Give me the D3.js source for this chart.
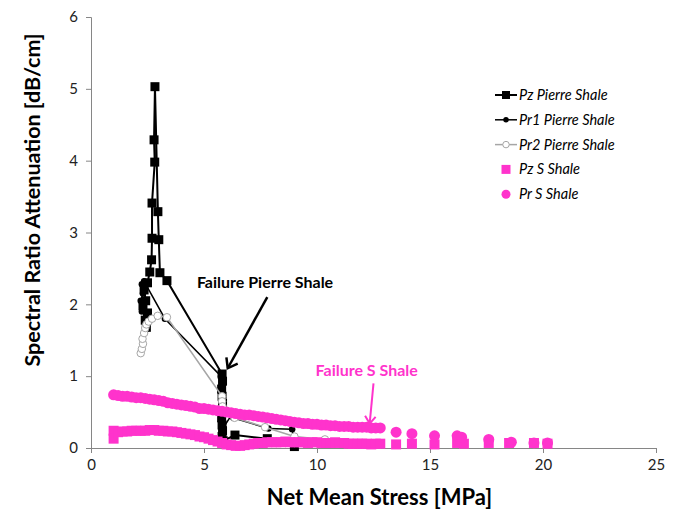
<!DOCTYPE html>
<html>
<head>
<meta charset="utf-8">
<script src="https://cdnjs.cloudflare.com/ajax/libs/d3/7.8.5/d3.min.js"></script>
<style>
  body { margin: 0; background: #fff; }
  svg { font-family: Lato, "Liberation Sans", sans-serif; }
</style>
</head>
<body>
<div id="chart"></div>
<script>
// values (x = Net Mean Stress MPa, y = attenuation dB/cm)
const pzPierreX = [2.45, 2.4, 2.5, 2.3, 2.42, 2.35, 2.5, 2.6, 2.68, 2.7, 2.7, 2.82, 2.79, 2.83, 2.96, 3.0, 3.05, 3.36,
                   5.8, 5.82, 5.78, 5.8, 5.82, 5.8, 5.78, 5.8, 5.82, 5.8, 5.85, 6.37, 7.8, 9.0];
const pzPierreY = [1.68, 1.78, 1.88, 1.98, 2.05, 2.2, 2.3, 2.45, 2.62, 2.92, 3.41, 3.98, 4.29, 5.03, 3.29, 2.9, 2.44, 2.33,
                   1.03, 0.93, 0.82, 0.72, 0.62, 0.52, 0.42, 0.32, 0.24, 0.16, 0.1, 0.18, 0.13, 0.02];

const pr1PierreX = [2.25, 2.2, 2.3, 2.25, 2.35, 3.27, 5.75, 5.8, 5.8, 5.85, 6.3, 6.3, 7.85, 8.9, 9.0];
const pr1PierreY = [1.9, 2.05, 2.15, 2.28, 2.32, 1.8, 1.0, 0.78, 0.48, 0.28, 0.5, 0.42, 0.27, 0.26, 0.1];

const pr2PierreX = [2.2, 2.25, 2.3, 2.28, 2.35, 2.4, 2.45, 2.55, 2.7, 2.95, 3.36, 5.8, 5.8, 5.82, 6.35, 7.7, 9.0, 10.35];
const pr2PierreY = [1.32, 1.38, 1.45, 1.52, 1.6, 1.67, 1.72, 1.76, 1.8, 1.84, 1.82, 0.72, 0.65, 0.58, 0.42, 0.29, 0.16, 0.12];

const pzSX = [1.0, 1.0, 1.2, 1.4, 1.6, 1.8, 2.0, 2.2, 2.4, 2.6, 2.8, 3.0, 3.2, 3.4, 3.6, 3.8, 4.0, 4.2, 4.4, 4.6, 4.8,
              5.0, 5.2, 5.4, 5.6, 5.8, 6.0, 6.2, 6.4, 6.6, 6.8, 7.0, 7.2, 7.4, 7.6, 7.8, 8.0, 8.2, 8.4, 8.6, 8.8,
              9.0, 9.2, 9.4, 9.6, 9.8, 10.0, 10.2, 10.4, 10.6, 10.8, 11.0, 11.2, 11.4, 11.6, 11.8, 12.0, 12.2, 12.4, 12.6, 12.8,
              13.5, 14.2, 15.2, 16.2, 16.5, 17.6, 18.5, 19.6, 20.2];
const pzSY = [0.24, 0.13, 0.22, 0.23, 0.23, 0.24, 0.24, 0.24, 0.24, 0.25, 0.25, 0.24, 0.24, 0.23, 0.23, 0.22, 0.21, 0.2, 0.19, 0.18, 0.16,
              0.15, 0.13, 0.11, 0.09, 0.07, 0.05, 0.04, 0.03, 0.03, 0.04, 0.05, 0.06, 0.07, 0.07, 0.08, 0.08, 0.08, 0.08, 0.09, 0.08,
              0.08, 0.08, 0.08, 0.07, 0.08, 0.08, 0.07, 0.07, 0.07, 0.08, 0.07, 0.07, 0.06, 0.06, 0.06, 0.06, 0.06, 0.05, 0.06, 0.06,
              0.05, 0.06, 0.05, 0.07, 0.06, 0.07, 0.07, 0.07, 0.06];

const prSX = [1.0, 1.2, 1.4, 1.6, 1.8, 2.0, 2.2, 2.4, 2.6, 2.8, 3.0, 3.2, 3.4, 3.6, 3.8, 4.0, 4.2, 4.4, 4.6, 4.8,
              5.0, 5.2, 5.4, 5.6, 5.8, 6.0, 6.2, 6.4, 6.6, 6.8, 7.0, 7.2, 7.4, 7.6, 7.8, 8.0, 8.2, 8.4, 8.6, 8.8,
              9.0, 9.2, 9.4, 9.6, 9.8, 10.0, 10.2, 10.4, 10.6, 10.8, 11.0, 11.2, 11.4, 11.6, 11.8, 12.0, 12.2, 12.4, 12.6, 12.8,
              13.5, 14.2, 15.2, 16.2, 16.4, 17.6, 18.6, 19.6, 20.2];
const prSY = [0.74, 0.73, 0.72, 0.72, 0.71, 0.7, 0.7, 0.69, 0.68, 0.67, 0.66, 0.65, 0.63, 0.62, 0.61, 0.6, 0.59, 0.58, 0.57, 0.55,
              0.55, 0.54, 0.53, 0.52, 0.51, 0.5, 0.49, 0.48, 0.47, 0.46, 0.46, 0.45, 0.44, 0.43, 0.42, 0.41, 0.4, 0.39, 0.38, 0.37,
              0.36, 0.35, 0.34, 0.34, 0.33, 0.33, 0.32, 0.32, 0.31, 0.31, 0.3, 0.3, 0.3, 0.29, 0.29, 0.29, 0.29, 0.28, 0.28, 0.28,
              0.22, 0.2, 0.17, 0.17, 0.15, 0.12, 0.08, 0.07, 0.07];

const xTicks = [0, 5, 10, 15, 20, 25];
const yTicks = [0, 1, 2, 3, 4, 5, 6];

const pink = "#ff33cc";

const series = [
  { name: "Pz Pierre Shale", xs: pzPierreX, ys: pzPierreY, line: "#000", lw: 2, shape: "square", size: 9, fill: "#000", stroke: "none" },
  { name: "Pr1 Pierre Shale", xs: pr1PierreX, ys: pr1PierreY, line: "#000", lw: 1.5, shape: "circle", size: 6.5, fill: "#000", stroke: "none" },
  { name: "Pr2 Pierre Shale", xs: pr2PierreX, ys: pr2PierreY, line: "#a6a6a6", lw: 1.5, shape: "circle", size: 7.5, fill: "#fff", stroke: "#a6a6a6" },
  { name: "Pz S Shale", xs: pzSX, ys: pzSY, line: null, shape: "square", size: 10, fill: pink, stroke: "none" },
  { name: "Pr S Shale", xs: prSX, ys: prSY, line: null, shape: "circle", size: 11, fill: pink, stroke: "none" }
];

const width = 680, height = 515;
const margin = { top: 17, right: 24, bottom: 67, left: 91 };
const innerW = width - margin.left - margin.right;
const innerH = height - margin.top - margin.bottom;

const svg = d3.select("#chart")
  .append("svg")
    .attr("width", width)
    .attr("height", height);

const g = svg.append("g")
    .attr("transform", `translate(${margin.left},${margin.top})`);

const x = d3.scaleLinear().domain([0, 25]).range([0, innerW]);
const y = d3.scaleLinear().domain([0, 6]).range([innerH, 0]);

// axes
const xAxis = g.append("g")
    .attr("transform", `translate(0,${innerH})`)
    .call(d3.axisBottom(x).tickValues(xTicks).tickFormat(d3.format("d")).tickSize(5).tickPadding(6));
const yAxis = g.append("g")
    .call(d3.axisLeft(y).tickValues(yTicks).tickFormat(d3.format("d")).tickSize(5).tickPadding(8));

[xAxis, yAxis].forEach(a => {
  a.select(".domain").attr("stroke", "#868686");
  a.selectAll(".tick line").attr("stroke", "#868686");
  a.selectAll(".tick text")
    .attr("fill", "#222")
    .style("font-size", "15px")
    .style("font-family", "Lato, sans-serif");
});

// symbol helper
function symbolPath(shape, size) {
  const type = shape === "square" ? d3.symbolSquare : d3.symbolCircle;
  return d3.symbol().type(type).size(size * size * (shape === "square" ? 1 : 0.785))();
}

series.forEach(s => {
  const pts = s.xs.map((v, i) => [v, s.ys[i]]);
  if (s.line) {
    g.append("path")
      .datum(pts)
      .attr("fill", "none")
      .attr("stroke", s.line)
      .attr("stroke-width", s.lw)
      .attr("d", d3.line().x(d => x(d[0])).y(d => y(d[1])));
  }
  g.append("g")
    .selectAll("path")
    .data(pts)
    .join("path")
      .attr("transform", d => `translate(${x(d[0])},${y(d[1])})`)
      .attr("d", symbolPath(s.shape, s.size))
      .attr("fill", s.fill)
      .attr("stroke", s.stroke)
      .attr("stroke-width", 1);
});

// axis titles
svg.append("text")
    .attr("x", margin.left + innerW / 2 + 6)
    .attr("y", 505)
    .attr("text-anchor", "middle")
    .style("font-size", "22px")
    .style("font-weight", "bold")
    .text("Net Mean Stress [MPa]");

svg.append("text")
    .attr("transform", "translate(40,200) rotate(-90)")
    .attr("text-anchor", "middle")
    .style("font-size", "21.5px")
    .style("font-weight", "bold")
    .text("Spectral Ratio Attenuation [dB/cm]");

// legend
const legend = svg.append("g").attr("transform", "translate(495,95)");
series.forEach((s, i) => {
  const row = legend.append("g").attr("transform", `translate(0,${i * 24.8})`);
  if (s.line) {
    row.append("line")
      .attr("x1", 0).attr("x2", 22)
      .attr("stroke", s.line)
      .attr("stroke-width", s.lw);
  }
  row.append("path")
    .attr("transform", "translate(11,0)")
    .attr("d", symbolPath(s.shape, s.line ? s.size - 1 : 9))
    .attr("fill", s.fill)
    .attr("stroke", s.stroke);
  row.append("text")
    .attr("x", 24)
    .attr("dy", "0.35em")
    .style("font-size", "14.5px")
    .style("font-style", "italic")
    .text(s.name);
});

// annotations
function arrow(color, x1, y1, x2, y2, w, head) {
  const ang = Math.atan2(y2 - y1, x2 - x1);
  g.append("line")
    .attr("x1", x1).attr("y1", y1).attr("x2", x2).attr("y2", y2)
    .attr("stroke", color).attr("stroke-width", w);
  const a1 = ang + Math.PI * 0.8, a2 = ang - Math.PI * 0.8;
  g.append("path")
    .attr("d", `M${x2 + head * Math.cos(a1)},${y2 + head * Math.sin(a1)}L${x2},${y2}L${x2 + head * Math.cos(a2)},${y2 + head * Math.sin(a2)}`)
    .attr("fill", "none")
    .attr("stroke", color)
    .attr("stroke-width", w);
}

g.append("text")
    .attr("x", x(7.7))
    .attr("y", y(2.23))
    .attr("text-anchor", "middle")
    .style("font-size", "16px")
    .style("font-weight", "bold")
    .text("Failure Pierre Shale");
arrow("#000", x(7.8), y(2.1), x(6.05), y(1.11), 2.5, 11);

g.append("text")
    .attr("x", x(12.2))
    .attr("y", y(1.0))
    .attr("text-anchor", "middle")
    .attr("fill", pink)
    .style("font-size", "16px")
    .style("font-weight", "bold")
    .text("Failure S Shale");
arrow(pink, x(12.5), y(0.9), x(12.33), y(0.34), 2, 9);
</script>
</body>
</html>
